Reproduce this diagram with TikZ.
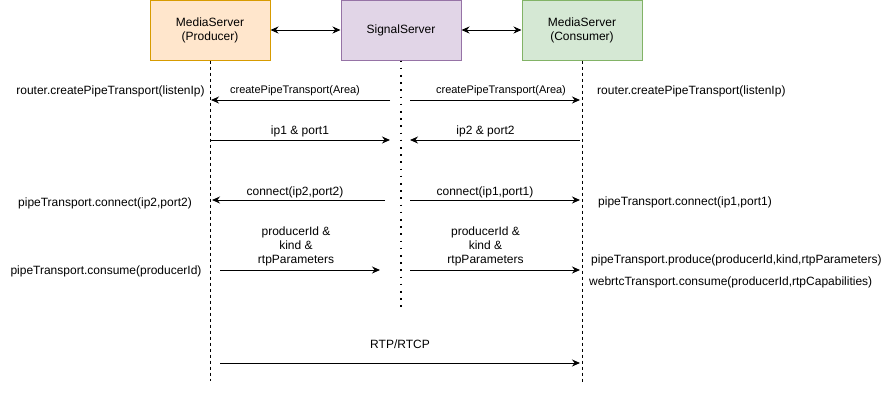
\documentclass[tikz,border=0pt]{standalone}
\usepackage{fontspec}
\setmainfont{Liberation Sans}
\usepackage{tikz}
\usetikzlibrary{positioning}
\usetikzlibrary{arrows.meta}

\definecolor{prodfill}{HTML}{FFE6CC}
\definecolor{prodline}{HTML}{D79B00}
\definecolor{sigfill}{HTML}{E1D5E7}
\definecolor{sigline}{HTML}{9673A6}
\definecolor{consfill}{HTML}{D5E8D4}
\definecolor{consline}{HTML}{82B366}

\begin{document}
\begin{tikzpicture}[x=1pt, y=-1pt,
                          servernode/.style={rectangle, draw, line width=1pt, minimum width=120pt, minimum height=60pt, align=center, font=\fontsize{12}{14}\selectfont},
                          producernode/.style={servernode, draw=prodline, fill=prodfill},
                          signalnode/.style={servernode, draw=sigline, fill=sigfill},
                          consumernode/.style={servernode, draw=consline, fill=consfill},
                          calltext/.style={inner sep=0pt, align=center, font=\fontsize{12}{14}\selectfont},
                          smalltext/.style={inner sep=0pt, font=\fontsize{11}{13}\selectfont},
                          msg/.style={line width=1pt, -{Stealth[length=8pt, width=7pt]}},
                          lifeline/.style={line width=1pt, dash pattern=on 3pt off 3pt},
                          lifeline_dotted/.style={line width=1.6pt, dash pattern=on 1.6pt off 5.6pt},
                      ]
                      \useasboundingbox (0,0) rectangle (891,402);
                      % Nodes
                      \node[producernode]        (producer)     at (210,30)        {MediaServer\\(Producer)};
                      \node[signalnode]          (signal)       [right=70pt of producer]    {SignalServer};
                      \node[consumernode]        (consumer)     [right=60pt of signal]      {MediaServer\\(Consumer)};

                      \coordinate (producer_end) at ([yshift=-320pt]producer.south);
                      \coordinate (signal_end)   at ([yshift=-250pt]signal.south);
                      \coordinate (consumer_end) at ([yshift=-322pt]consumer.south);

                      \node[calltext]        (prod_router)     at (110.5,91)    {router.createPipeTransport(listenIp)};
                      \node[calltext, anchor=west]  (cons_router)   at (597,91)   {router.createPipeTransport(listenIp)};
                      \node[smalltext]       (create_1_text)   at (295,91)      {createPipeTransport(Area)};
                      \node[smalltext]       (create_2_text)   at (501,91)      {createPipeTransport(Area)};

                      \node[calltext]        (ip_1_text)       at (300,131)     {ip1 \& port1};
                      \node[calltext]        (ip_2_text)       at (485.5,131)   {ip2 \& port2};

                      \node[calltext]        (connect_1_text)  at (295,192)     {connect(ip2,port2)};
                      \node[calltext]        (connect_2_text)  at (485,192)     {connect(ip1,port1)};
                      \node[calltext]        (prod_connect)    at (105,203)     {pipeTransport.connect(ip2,port2)};
                      \node[calltext, anchor=west]  (cons_connect)  at (598,202)  {pipeTransport.connect(ip1,port1)};

                      \node[calltext]        (param_1_text)    at (296,246)     {producerId \&\\kind \&\\rtpParameters};
                      \node[calltext]        (param_2_text)    at (485.5,246)   {producerId \&\\kind \&\\rtpParameters};
                      \node[calltext]        (prod_consume)    at (106,271)     {pipeTransport.consume(producerId)};
                      \node[calltext, anchor=west]  (cons_produce)  at (591,260)  {pipeTransport.produce(producerId,kind,rtpParameters)};
                      \node[calltext, anchor=west]  (cons_consume)  at (589,282)  {webrtcTransport.consume(producerId,rtpCapabilities)};

                      \node[calltext]        (rtp_text)        at (400,344)     {RTP/RTCP};

                      % Message ends
                      \coordinate (create_1_a) at (390,100);
                      \coordinate (create_1_b) at (211,100);
                      \coordinate (create_2_a) at (410,100);
                      \coordinate (create_2_b) at (580,100);
                      \coordinate (ip_1_a) at (210,140);
                      \coordinate (ip_1_b) at (390,140);
                      \coordinate (ip_2_a) at (580,140);
                      \coordinate (ip_2_b) at (410,140);
                      \coordinate (connect_1_a) at (385,200);
                      \coordinate (connect_1_b) at (212,200);
                      \coordinate (connect_2_a) at (410,200);
                      \coordinate (connect_2_b) at (580,200);
                      \coordinate (param_1_a) at (220,270);
                      \coordinate (param_1_b) at (380,270);
                      \coordinate (param_2_a) at (410,270);
                      \coordinate (param_2_b) at (580,270);
                      \coordinate (rtp_a) at (220,363);
                      \coordinate (rtp_b) at (580,363);

                      %Lines
                      \draw[line width=1pt, {Stealth[length=8pt, width=7pt]}-{Stealth[length=8pt, width=7pt]}] (producer.east) -- (signal.west);
                      \draw[line width=1pt, {Stealth[length=8pt, width=7pt]}-{Stealth[length=8pt, width=7pt]}] (signal.east) -- (consumer.west);
                      \draw[lifeline] (producer.south) -- (producer_end);
                      \draw[lifeline_dotted] (signal.south) -- (signal_end);
                      \draw[lifeline] (consumer.south) -- (consumer_end);
                      \draw[msg] (create_1_a) -- (create_1_b);
                      \draw[msg] (create_2_a) -- (create_2_b);
                      \draw[msg] (ip_1_a) -- (ip_1_b);
                      \draw[msg] (ip_2_a) -- (ip_2_b);
                      \draw[msg] (connect_1_a) -- (connect_1_b);
                      \draw[msg] (connect_2_a) -- (connect_2_b);
                      \draw[msg] (param_1_a) -- (param_1_b);
                      \draw[msg] (param_2_a) -- (param_2_b);
                      \draw[msg] (rtp_a) -- (rtp_b);
                  \end{tikzpicture}
\end{document}
